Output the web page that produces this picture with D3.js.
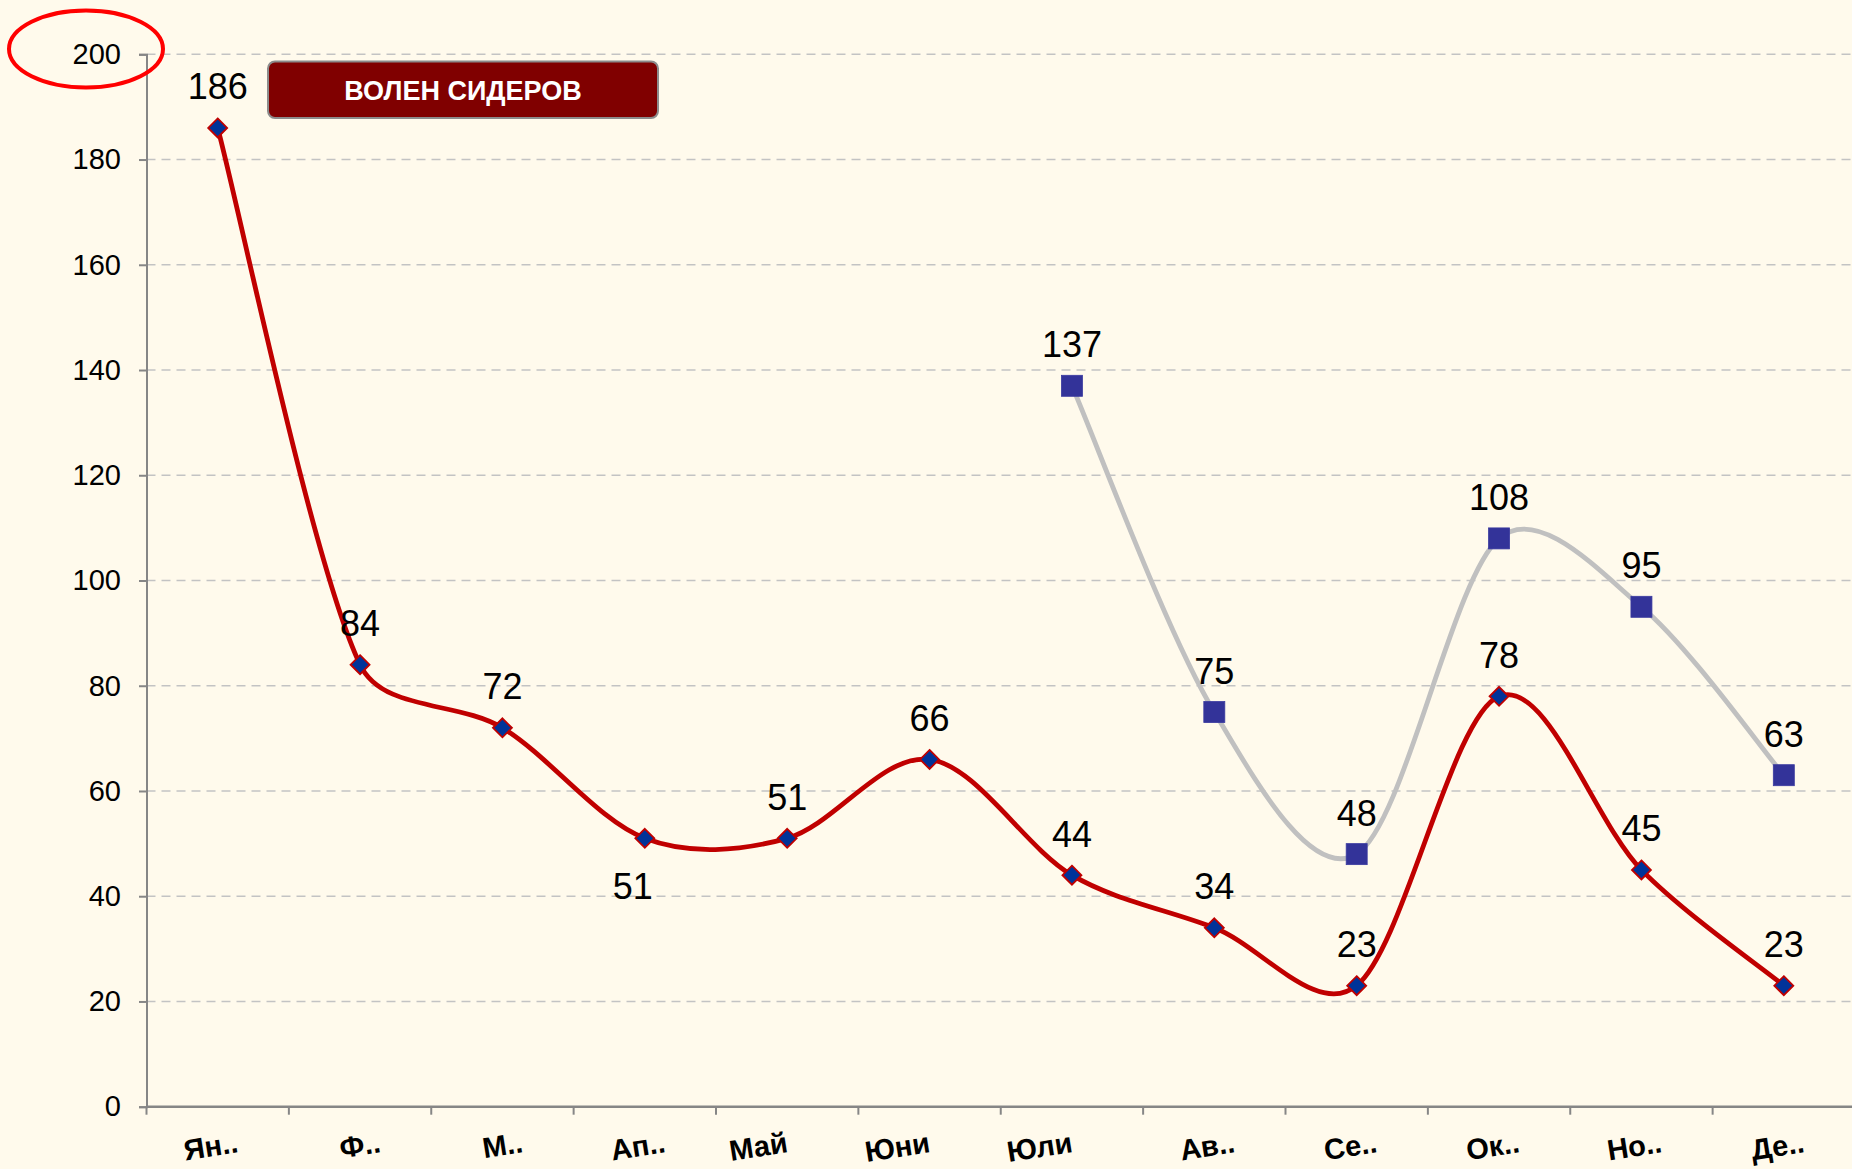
<!DOCTYPE html>
<html>
<head>
<meta charset="utf-8">
<script src="https://cdn.jsdelivr.net/npm/d3@7"></script>
<style>
  html, body { margin: 0; padding: 0; background: #fffaec; }
  svg { display: block; }
</style>
</head>
<body>
<svg id="chart" width="1852" height="1169"></svg>
<script>
// ---- data ----
const months = ["Ян..", "Ф..", "М..", "Ап..", "Май", "Юни", "Юли", "Ав..", "Се..", "Ок..", "Но..", "Де.."];
const seriesRed = [186, 84, 72, 51, 51, 66, 44, 34, 23, 78, 45, 23];
const seriesGray = [null, null, null, null, null, null, 137, 75, 48, 108, 95, 63];
const yTicks = [0, 20, 40, 60, 80, 100, 120, 140, 160, 180, 200];
const redLabelsBelow = ["Ап.."];
const legendTitle = "ВОЛЕН СИДЕРОВ";

(function () {
// ---- layout ----
const W = 1852, H = 1169;
const pLeft = 146.5, pRight = 1855, pTop = 54.3, pBottom = 1106.7;

const svg = d3.select("#chart");
svg.append("rect").attr("width", W).attr("height", H).attr("fill", "#fffaec");

const x = d3.scaleBand().domain(months).range([pLeft, pRight]).paddingInner(0).paddingOuter(0);
const y = d3.scaleLinear().domain([0, 200]).range([pBottom, pTop]);
const cx = m => x(m) + x.bandwidth() / 2;

// Excel-like smoothed curve (Bezier, tangent (P2-P0)/6, limited by segment length)
function excelCurve(context) {
  let pts;
  return {
    areaStart() {}, areaEnd() {},
    lineStart() { pts = []; },
    point(px, py) { pts.push([+px, +py]); },
    lineEnd() {
      const n = pts.length;
      if (!n) return;
      context.moveTo(pts[0][0], pts[0][1]);
      for (let i = 0; i < n - 1; i++) {
        const p0 = pts[Math.max(i - 1, 0)], p1 = pts[i], p2 = pts[i + 1], p3 = pts[Math.min(i + 2, n - 1)];
        const d12 = Math.hypot(p2[0] - p1[0], p2[1] - p1[1]);
        let t1 = [(p2[0] - p0[0]) / 6, (p2[1] - p0[1]) / 6];
        let t2 = [(p3[0] - p1[0]) / 6, (p3[1] - p1[1]) / 6];
        const cap = d12 / 3;
        const l1 = Math.hypot(t1[0], t1[1]), l2 = Math.hypot(t2[0], t2[1]);
        if (l1 > cap) t1 = t1.map(v => v * cap / l1);
        if (l2 > cap) t2 = t2.map(v => v * cap / l2);
        context.bezierCurveTo(p1[0] + t1[0], p1[1] + t1[1], p2[0] - t2[0], p2[1] - t2[1], p2[0], p2[1]);
      }
    }
  };
}

// gridlines
svg.append("g").selectAll("line").data(yTicks.filter(t => t > 0)).join("line")
  .attr("x1", pLeft).attr("x2", W)
  .attr("y1", d => y(d)).attr("y2", d => y(d))
  .attr("stroke", "#c3c3c3").attr("stroke-width", 1.6)
  .attr("stroke-dasharray", "9,6");

const sans = "'Liberation Sans', Arial, sans-serif";

// y axis
const yAxis = svg.append("g").attr("transform", `translate(${pLeft},0)`)
  .call(d3.axisLeft(y).tickValues(yTicks).tickSize(7.5).tickPadding(18));
yAxis.select(".domain").attr("stroke", "#868686").attr("stroke-width", 2);
yAxis.selectAll(".tick line").attr("stroke", "#868686").attr("stroke-width", 2);
yAxis.selectAll(".tick text")
  .attr("font-family", sans)
  .attr("font-size", 29).attr("fill", "#000");

// x axis
const xAxis = svg.append("g").attr("transform", `translate(0,${pBottom})`);
xAxis.append("line").attr("x1", pLeft).attr("x2", W).attr("y1", 0).attr("y2", 0)
  .attr("stroke", "#868686").attr("stroke-width", 2.5);
xAxis.selectAll("line.tk").data(d3.range(months.length + 1)).join("line").attr("class", "tk")
  .attr("x1", i => pLeft + i * x.step()).attr("x2", i => pLeft + i * x.step())
  .attr("y1", 0).attr("y2", 8)
  .attr("stroke", "#868686").attr("stroke-width", 2);
xAxis.selectAll("text").data(months).join("text")
  .attr("transform", d => `translate(${cx(d) + (d.endsWith("..") ? 20 : 0)},${1142 - pBottom}) rotate(-9)`)
  .attr("text-anchor", "end").attr("dominant-baseline", "central")
  .attr("font-family", sans)
  .attr("font-weight", "bold").attr("font-size", 29).attr("fill", "#000")
  .text(d => d);

// lines
const grayData = months.map((m, i) => ({ m, v: seriesGray[i] })).filter(d => d.v !== null);
const redData = months.map((m, i) => ({ m, v: seriesRed[i] }));

svg.append("path").datum(grayData)
  .attr("d", d3.line().x(d => cx(d.m)).y(d => y(d.v)).curve(excelCurve))
  .attr("fill", "none").attr("stroke", "#c0c0c0").attr("stroke-width", 4.8);

svg.append("path").datum(redData)
  .attr("d", d3.line().x(d => cx(d.m)).y(d => y(d.v)).curve(excelCurve))
  .attr("fill", "none").attr("stroke", "#c00000").attr("stroke-width", 4.8);

// markers
svg.append("g").selectAll("rect").data(grayData).join("rect")
  .attr("x", d => cx(d.m) - 10.5).attr("y", d => y(d.v) - 10.5)
  .attr("width", 21).attr("height", 21)
  .attr("fill", "#333399").attr("stroke", "#3a3aa0").attr("stroke-width", 0.8);

svg.append("g").selectAll("path").data(redData).join("path")
  .attr("transform", d => `translate(${cx(d.m)},${y(d.v)})`)
  .attr("d", "M0,-9.5L9.5,0L0,9.5L-9.5,0Z")
  .attr("fill", "#003399").attr("stroke", "#c00000").attr("stroke-width", 1.8);

// data labels
svg.append("g").selectAll("text").data(grayData).join("text")
  .attr("x", d => cx(d.m)).attr("y", d => y(d.v) - 41)
  .attr("text-anchor", "middle").attr("dominant-baseline", "central")
  .attr("font-family", sans).attr("font-size", 36).attr("fill", "#000")
  .text(d => d.v);

svg.append("g").selectAll("text").data(redData).join("text")
  .attr("x", d => cx(d.m) + (redLabelsBelow.includes(d.m) ? -12 : 0))
  .attr("y", d => y(d.v) + (redLabelsBelow.includes(d.m) ? 48 : -41))
  .attr("text-anchor", "middle").attr("dominant-baseline", "central")
  .attr("font-family", sans).attr("font-size", 36).attr("fill", "#000")
  .text(d => d.v);

// legend box
const lg = svg.append("g");
lg.append("rect").attr("x", 268).attr("y", 61.5).attr("width", 390).attr("height", 56.5)
  .attr("rx", 7).attr("ry", 7)
  .attr("fill", "#800000").attr("stroke", "#8c8c8c").attr("stroke-width", 2);
lg.append("text").attr("x", 463).attr("y", 91)
  .attr("text-anchor", "middle").attr("dominant-baseline", "central")
  .attr("font-family", sans)
  .attr("font-weight", "bold").attr("font-size", 27).attr("fill", "#ffffff")
  .text(legendTitle);

// red ellipse around 200
svg.append("ellipse").attr("cx", 86).attr("cy", 49).attr("rx", 77).attr("ry", 38.5)
  .attr("fill", "none").attr("stroke", "#ff0000").attr("stroke-width", 4);
})();
</script>
</body>
</html>
